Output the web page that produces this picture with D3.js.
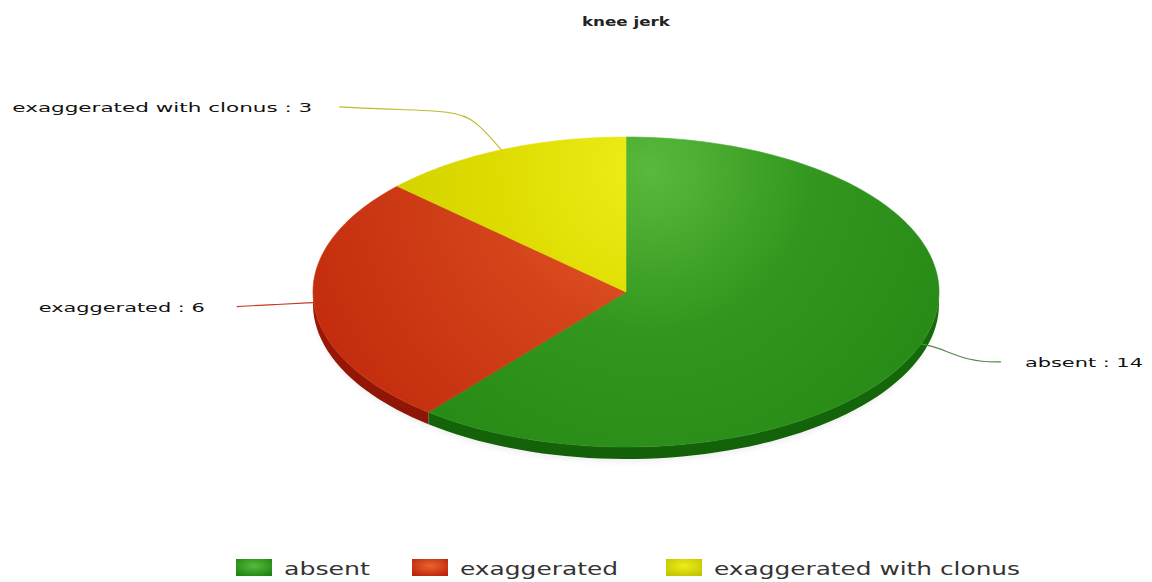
<!DOCTYPE html>
<html>
<head>
<meta charset="utf-8">
<script src="https://cdn.jsdelivr.net/npm/d3@7/dist/d3.min.js"></script>
<style>
  html, body { margin: 0; padding: 0; background: #fff; }
  svg { display: block; }
</style>
</head>
<body>
<svg id="chart" width="1152" height="582"></svg>
<script>
// Knee jerk responses
const categories = ["absent", "exaggerated", "exaggerated with clonus"];
const counts = [14, 6, 3];
const chartTitle = "knee jerk";

// Palette per category: [highlight, mid, rim, side wall]
const palette = [
  ["#58ba3c", "#33961e", "#1e8211", "#166f0a"],
  ["#ea6430", "#d4441a", "#bb2208", "#a21806"],
  ["#eeee1a", "#dddb00", "#c2c200", "#a8a800"]
];

const W = 1152, H = 582;
const cx = 626, cy = 292, rx = 313, ry = 155, depth = 12;

const svg = d3.select("#chart");
const defs = svg.append("defs");

// Radial highlight shared by all slices (lighter toward the top)
palette.forEach((c, i) => {
  const g = defs.append("radialGradient")
    .attr("id", "top" + i)
    .attr("gradientUnits", "userSpaceOnUse")
    .attr("cx", 650).attr("cy", 170).attr("r", 460);
  g.append("stop").attr("offset", 0).attr("stop-color", c[0]);
  g.append("stop").attr("offset", 0.35).attr("stop-color", c[1]);
  g.append("stop").attr("offset", 1).attr("stop-color", c[2]);

  const s = defs.append("linearGradient")
    .attr("id", "side" + i)
    .attr("x1", 0).attr("y1", 0).attr("x2", 0).attr("y2", 1);
  s.append("stop").attr("offset", 0).attr("stop-color", c[3]);
  s.append("stop").attr("offset", 1).attr("stop-color", d3.color(c[3]).darker(0.4));

  const l = defs.append("radialGradient")
    .attr("id", "leg" + i)
    .attr("cx", 0.5).attr("cy", 0.4).attr("r", 0.7);
  l.append("stop").attr("offset", 0).attr("stop-color", c[0]);
  l.append("stop").attr("offset", 1).attr("stop-color", c[2]);
});

const blur = defs.append("filter").attr("id", "soft")
  .attr("x", "-10%").attr("y", "-10%").attr("width", "120%").attr("height", "130%");
blur.append("feGaussianBlur").attr("stdDeviation", 4);

// Angle convention from d3.pie: 0 at 12 o'clock, clockwise
const pt = (a, k = 1, dy = 0) => [
  cx + rx * k * Math.sin(a),
  cy - ry * k * Math.cos(a) + dy
];

const arcs = d3.pie().sort(null).value(d => d)(counts);

const line = d3.line();

// Soft shadow under the disc
svg.append("ellipse")
  .attr("cx", cx).attr("cy", cy + depth + 3)
  .attr("rx", rx - 4).attr("ry", ry - 2)
  .attr("fill", "#000").attr("opacity", 0.10)
  .attr("filter", "url(#soft)");

// Side walls (front half only)
const gSide = svg.append("g");
arcs.forEach((a, i) => {
  const lo = Math.max(a.startAngle, Math.PI / 2);
  const hi = Math.min(a.endAngle, 3 * Math.PI / 2);
  if (hi <= lo) return;
  const n = 60;
  const topPts = d3.range(n + 1).map(j => pt(lo + (hi - lo) * j / n));
  const botPts = topPts.slice().reverse().map(p => [p[0], p[1] + depth]);
  gSide.append("path")
    .attr("d", line(topPts.concat(botPts)) + "Z")
    .attr("fill", `url(#side${i})`);
});

// Top surface slices
const gTop = svg.append("g");
arcs.forEach((a, i) => {
  const n = Math.max(8, Math.ceil((a.endAngle - a.startAngle) * 60));
  const pts = [[cx, cy]].concat(
    d3.range(n + 1).map(j => pt(a.startAngle + (a.endAngle - a.startAngle) * j / n))
  );
  gTop.append("path")
    .attr("d", line(pts) + "Z")
    .attr("fill", `url(#top${i})`)
    .attr("stroke", `url(#top${i})`)
    .attr("stroke-width", 0.6);
});

// Leader lines and labels
const leaderColors = ["#4e8c42", "#c43a22", "#bcbc2a"];
const labelFont = "'DejaVu Sans', Verdana, sans-serif";
const labelW = [118, 166, 300];

const gLab = svg.append("g");
arcs.forEach((a, i) => {
  const mid = (a.startAngle + a.endAngle) / 2;
  const p0 = pt(mid, 1.0);
  const right = Math.sin(mid) > 0;
  let pts, tx, ty, anchor;
  if (right) {
    const p1 = pt(mid, 1.05);
    const p2 = [p0[0] + 80, p0[1] + 18];
    pts = [p0, p1, [p2[0] - 30, p2[1]], p2];
    tx = p2[0] + 24; ty = p2[1] + 5; anchor = "start";
  } else if (Math.abs(Math.cos(mid)) < 0.3) {
    const p2 = [p0[0] - 77, p0[1] + 4];
    pts = [p0, [p0[0] - 40, p0[1] + 2], p2];
    tx = p2[0] - 32; ty = p2[1] + 5; anchor = "end";
  } else {
    const p1 = pt(mid, 1.16);
    const p2 = [p0[0] - 162, p0[1] - 43];
    pts = [p0, p1, [p1[0] - 20, p1[1] - 16], [p2[0] + 60, p2[1] + 3], p2];
    tx = p2[0] - 27; ty = p2[1] + 5; anchor = "end";
  }
  gLab.append("path")
    .attr("d", d3.line().curve(d3.curveBasis)(pts))
    .attr("fill", "none")
    .attr("stroke", leaderColors[i])
    .attr("stroke-width", 1.1);
  gLab.append("text")
    .attr("x", tx).attr("y", ty)
    .attr("text-anchor", anchor)
    .attr("font-family", labelFont)
    .attr("font-size", 13)
    .attr("fill", "#111")
    .attr("textLength", labelW[i])
    .attr("lengthAdjust", "spacingAndGlyphs")
    .text(`${categories[i]} : ${counts[i]}`);
});

// Title
svg.append("text")
  .attr("x", cx).attr("y", 26)
  .attr("text-anchor", "middle")
  .attr("font-family", labelFont)
  .attr("font-size", 12)
  .attr("font-weight", "bold")
  .attr("fill", "#222")
  .attr("textLength", 88)
  .attr("lengthAdjust", "spacingAndGlyphs")
  .text(chartTitle);

// Legend
const legendTextW = [86, 158, 306];
const gLeg = svg.append("g");
let lx = 236;
categories.forEach((c, i) => {
  gLeg.append("rect")
    .attr("x", lx).attr("y", 559)
    .attr("width", 36).attr("height", 17)
    .attr("fill", `url(#leg${i})`);
  gLeg.append("text")
    .attr("x", lx + 48).attr("y", 575)
    .attr("font-family", labelFont)
    .attr("font-size", 18)
    .attr("fill", "#333")
    .attr("textLength", legendTextW[i])
    .attr("lengthAdjust", "spacingAndGlyphs")
    .text(c);
  lx += 36 + 12 + legendTextW[i] + 42 + i * 6;
});
</script>
</body>
</html>
